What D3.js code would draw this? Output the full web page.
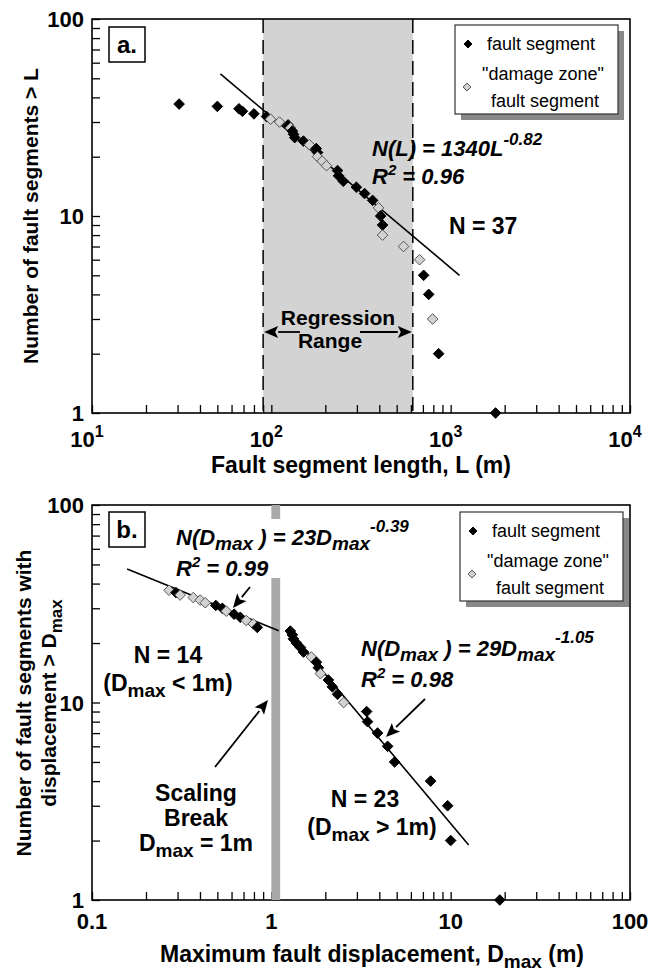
<!DOCTYPE html>
<html>
<head>
<meta charset="utf-8">
<script src="https://cdn.jsdelivr.net/npm/d3@7"></script>
<style>
  body { margin: 0; background: #fff; }
  svg { display: block; font-family: "Liberation Sans", Arial, Helvetica, sans-serif; }
  .bold { font-weight: bold; }
</style>
</head>
<body>
<svg id="chart" width="648" height="975"></svg>
<script>
// panel a: cumulative count of fault segment lengths
var lengthA = [30.6, 50, 66, 69, 80, 94, 99, 111, 124, 128, 131, 133, 135, 151, 163, 178, 181, 181, 192,
  203, 234, 237, 252, 298, 331, 367, 396, 407, 417, 417, 546, 671, 707, 754, 793, 857, 1780];
var countA = [37, 36, 35, 34, 33, 32, 31, 30, 29, 28, 27, 26, 25, 24, 23, 22, 21, 20, 19,
  18, 17, 16, 15, 14, 13, 12, 11, 10, 9, 8, 7, 6, 5, 4, 3, 2, 1];
var typeA = ['f', 'f', 'f', 'f', 'f', 'f', 'd', 'd', 'f', 'd', 'f', 'f', 'f', 'f', 'd', 'f', 'f', 'd', 'd',
  'd', 'f', 'f', 'f', 'f', 'f', 'f', 'd', 'f', 'f', 'd', 'd', 'd', 'f', 'f', 'd', 'f', 'f'];
var regressionRange = [90, 615];
var fitLineA = [[52, 52.6], [1120, 5.0]];

// panel b: cumulative count of maximum displacements
var dispB = [0.269, 0.294, 0.31, 0.367, 0.401, 0.428, 0.49, 0.533, 0.561, 0.62, 0.671, 0.725, 0.793, 0.835,
  1.276, 1.309, 1.327, 1.38, 1.453, 1.511, 1.672, 1.783, 1.83, 1.879, 2.08, 2.19, 2.34, 2.53,
  3.40, 3.44, 3.91, 4.45, 4.87, 7.73, 9.62, 10.0, 18.8];
var countB = [37, 36, 35, 34, 33, 32, 31, 30, 29, 28, 27, 26, 25, 24,
  23, 22, 21, 20, 19, 18, 17, 16, 15, 14, 13, 12, 11, 10, 9, 8, 7, 6, 5, 4, 3, 2, 1];
var typeB = ['d', 'f', 'd', 'd', 'd', 'd', 'f', 'f', 'd', 'f', 'f', 'd', 'd', 'f',
  'f', 'f', 'f', 'f', 'f', 'f', 'd', 'f', 'f', 'd', 'f', 'f', 'f', 'd', 'f', 'f', 'f', 'f', 'f', 'f', 'f', 'f', 'f'];
var scalingBreak = [1.0, 1.12];
var fitLineB1 = [[0.157, 47.4], [1.1, 23.1]];
var fitLineB2 = [[1.24, 23.3], [12.6, 1.9]];

var yTicks = [1, 10, 100];

var svg = d3.select('#chart');
var left = 92, right = 630;

var xA = d3.scaleLog().domain([10, 1e4]).range([left, right]);
var yA = d3.scaleLog().domain([1, 100]).range([413, 19]);
var xB = d3.scaleLog().domain([0.1, 100]).range([left, right]);
var yB = d3.scaleLog().domain([1, 100]).range([900, 505]);

var diamond = d3.symbol().type(d3.symbolDiamond2).size(72);
var diamondSmall = d3.symbol().type(d3.symbolDiamond2).size(40);

function styleMark(sel) {
  sel.attr('fill', function (d) { return d.type === 'f' ? '#000' : '#d2d2d2'; })
    .attr('stroke', function (d) { return d.type === 'f' ? '#000' : '#555'; })
    .attr('stroke-width', 1);
}

function rows(xs, ns, ts) {
  return xs.map(function (v, i) { return { x: v, n: ns[i], type: ts[i] }; });
}

function drawAxes(g, x, y) {
  // ticks pointing into the plot
  g.append('g')
    .attr('transform', 'translate(0,' + y.range()[0] + ')')
    .call(d3.axisBottom(x).tickValues(x.ticks()).tickSizeInner(-8).tickSizeOuter(0).tickFormat(''))
    .call(function (a) { a.select('.domain').remove(); a.selectAll('line').attr('stroke-width', 1.3); });
  g.append('g')
    .attr('transform', 'translate(' + x.range()[0] + ',0)')
    .call(d3.axisLeft(y).tickValues(y.ticks()).tickSizeInner(-8).tickSizeOuter(0).tickFormat(''))
    .call(function (a) { a.select('.domain').remove(); a.selectAll('line').attr('stroke-width', 1.3); });

  g.append('rect')
    .attr('x', x.range()[0]).attr('y', y.range()[1])
    .attr('width', x.range()[1] - x.range()[0])
    .attr('height', y.range()[0] - y.range()[1])
    .attr('fill', 'none').attr('stroke', '#000').attr('stroke-width', 1.6);

  g.selectAll('text.ylab').data(yTicks).enter().append('text')
    .attr('class', 'ylab bold')
    .attr('x', x.range()[0] - 8).attr('y', function (d) { return y(d) + 8; })
    .attr('text-anchor', 'end').attr('font-size', 22)
    .text(function (d) { return d; });
}

function panelLabel(g, x, y, txt) {
  g.append('rect').attr('x', x).attr('y', y).attr('width', 36).attr('height', 35)
    .attr('fill', '#fff').attr('stroke', '#000').attr('stroke-width', 1.5);
  g.append('text').attr('class', 'bold').attr('x', x + 18).attr('y', y + 26)
    .attr('text-anchor', 'middle').attr('font-size', 24).text(txt);
}

function legend(g, x, y) {
  var w = 163, h = 89;
  g.append('rect').attr('x', x + 6).attr('y', y + 6).attr('width', w).attr('height', h).attr('fill', '#888');
  g.append('rect').attr('x', x).attr('y', y).attr('width', w).attr('height', h)
    .attr('fill', '#fff').attr('stroke', '#333').attr('stroke-width', 1.2);
  g.append('path').attr('d', diamondSmall).datum({ type: 'f' })
    .attr('transform', 'translate(' + (x + 13) + ',' + (y + 19) + ')').call(styleMark);
  g.append('path').attr('d', diamondSmall).datum({ type: 'd' })
    .attr('transform', 'translate(' + (x + 12) + ',' + (y + 62) + ')').call(styleMark);
  var t = g.append('g').attr('font-size', 18);
  t.append('text').attr('x', x + 32).attr('y', y + 25).text('fault segment');
  t.append('text').attr('x', x + 88).attr('y', y + 55).attr('text-anchor', 'middle').text('"damage zone"');
  t.append('text').attr('x', x + 90).attr('y', y + 82).attr('text-anchor', 'middle').text('fault segment');
}

function arrow(g, x1, y1, x2, y2) {
  var ang = Math.atan2(y2 - y1, x2 - x1), L = 14, W = 6;
  var bx = x2 - L * Math.cos(ang), by = y2 - L * Math.sin(ang);
  g.append('line').attr('x1', x1).attr('y1', y1).attr('x2', bx).attr('y2', by)
    .attr('stroke', '#000').attr('stroke-width', 1.8);
  g.append('path')
    .attr('d', 'M' + x2 + ',' + y2 +
      'L' + (bx - W * Math.sin(ang)) + ',' + (by + W * Math.cos(ang)) +
      'L' + (bx + 3 * Math.cos(ang)) + ',' + (by + 3 * Math.sin(ang)) +
      'L' + (bx + W * Math.sin(ang)) + ',' + (by - W * Math.cos(ang)) + 'Z')
    .attr('fill', '#000');
}

var line = function (x, y) {
  return d3.line().x(function (d) { return x(d[0]); }).y(function (d) { return y(d[1]); });
};

function boldText(g, x, y, size, txt) {
  return g.append('text').attr('class', 'bold').attr('font-size', size)
    .attr('x', x).attr('y', y).attr('text-anchor', 'middle').text(txt);
}

// ---------- panel a ----------
var ga = svg.append('g');
ga.append('rect')
  .attr('x', xA(regressionRange[0])).attr('y', yA(100))
  .attr('width', xA(regressionRange[1]) - xA(regressionRange[0]))
  .attr('height', yA(1) - yA(100))
  .attr('fill', '#d3d3d3');
regressionRange.forEach(function (v) {
  ga.append('line').attr('x1', xA(v)).attr('x2', xA(v)).attr('y1', yA(100)).attr('y2', yA(1))
    .attr('stroke', '#000').attr('stroke-width', 1.5).attr('stroke-dasharray', '14,7');
});
drawAxes(ga, xA, yA);

ga.selectAll('text.xlab').data([10, 100, 1000, 10000]).enter().append('text')
  .attr('class', 'xlab bold').attr('font-size', 22)
  .attr('x', function (d) { return xA(d) - 5; }).attr('y', 447)
  .attr('text-anchor', 'middle')
  .each(function (d) {
    var t = d3.select(this);
    t.append('tspan').text('10');
    t.append('tspan').attr('dy', -10).attr('font-size', 16).text(Math.round(Math.log10(d)));
  });

ga.append('path').datum(fitLineA).attr('d', line(xA, yA))
  .attr('fill', 'none').attr('stroke', '#000').attr('stroke-width', 1.6);

ga.selectAll('path.mark').data(rows(lengthA, countA, typeA)).enter().append('path')
  .attr('class', 'mark').attr('d', diamond)
  .attr('transform', function (d) { return 'translate(' + xA(d.x) + ',' + yA(d.n) + ')'; })
  .call(styleMark);

panelLabel(ga, 109, 27, 'a.');
legend(ga, 455, 25);

var eqA = ga.append('text').attr('class', 'bold').attr('font-style', 'italic').attr('font-size', 22)
  .attr('x', 372).attr('y', 156);
eqA.append('tspan').text('N(L) = 1340L');
eqA.append('tspan').attr('dy', -11).attr('font-size', 17).text('-0.82');
var r2A = ga.append('text').attr('class', 'bold').attr('font-style', 'italic').attr('font-size', 22)
  .attr('x', 372).attr('y', 184);
r2A.append('tspan').text('R');
r2A.append('tspan').attr('dy', -9).attr('font-size', 15).text('2');
r2A.append('tspan').attr('dy', 9).text(' = 0.96');

ga.append('text').attr('class', 'bold').attr('font-size', 23).attr('x', 449).attr('y', 234).text('N = 37');

boldText(ga, 338, 325, 21, 'Regression');
boldText(ga, 330, 348, 21, 'Range');
arrow(ga, 300, 332, xA(regressionRange[0]) + 1, 332);
arrow(ga, 360, 332, xA(regressionRange[1]) - 1, 332);

boldText(ga, 361, 473, 23, 'Fault segment length, L (m)');
ga.append('text').attr('class', 'bold').attr('font-size', 21)
  .attr('transform', 'translate(38,216) rotate(-90)').attr('text-anchor', 'middle')
  .text('Number of fault segments > L');

// ---------- panel b ----------
var gb = svg.append('g');
drawAxes(gb, xB, yB);

gb.selectAll('text.xlab').data([0.1, 1, 10, 100]).enter().append('text')
  .attr('class', 'xlab bold').attr('font-size', 22)
  .attr('x', function (d) { return xB(d); }).attr('y', 929)
  .attr('text-anchor', 'middle').text(function (d) { return d; });

// scaling break bar, interrupted behind the left equation
var barX = xB(scalingBreak[0]), barW = xB(scalingBreak[1]) - xB(scalingBreak[0]);
gb.append('rect').attr('x', barX).attr('y', yB(100)).attr('width', barW).attr('height', 14).attr('fill', '#a9a9a9');
gb.append('rect').attr('x', barX).attr('y', 578).attr('width', barW).attr('height', yB(1) - 578).attr('fill', '#a9a9a9');

gb.append('path').datum(fitLineB1).attr('d', line(xB, yB))
  .attr('fill', 'none').attr('stroke', '#000').attr('stroke-width', 1.6);
gb.append('path').datum(fitLineB2).attr('d', line(xB, yB))
  .attr('fill', 'none').attr('stroke', '#000').attr('stroke-width', 1.6);

gb.selectAll('path.mark').data(rows(dispB, countB, typeB)).enter().append('path')
  .attr('class', 'mark').attr('d', diamond)
  .attr('transform', function (d) { return 'translate(' + xB(d.x) + ',' + yB(d.n) + ')'; })
  .call(styleMark);

panelLabel(gb, 109, 512, 'b.');
legend(gb, 460, 512);

function dmaxEq(g, x, y, coef, expo, r2) {
  var t = g.append('text').attr('class', 'bold').attr('font-style', 'italic').attr('font-size', 22)
    .attr('x', x).attr('y', y);
  t.append('tspan').text('N(D');
  t.append('tspan').attr('dy', 5).attr('font-size', 19).text('max');
  t.append('tspan').attr('dy', -5).text(' ) = ' + coef + 'D');
  t.append('tspan').attr('dy', 5).attr('font-size', 19).text('max');
  t.append('tspan').attr('dy', -18).attr('font-size', 17).text(expo);
  var r = g.append('text').attr('class', 'bold').attr('font-style', 'italic').attr('font-size', 22)
    .attr('x', x).attr('y', y + 31);
  r.append('tspan').text('R');
  r.append('tspan').attr('dy', -9).attr('font-size', 15).text('2');
  r.append('tspan').attr('dy', 9).text(' = ' + r2);
}
dmaxEq(gb, 176, 545, 23, '-0.39', '0.99');
dmaxEq(gb, 361, 656, 29, '-1.05', '0.98');

arrow(gb, 250, 587, 233, 608);
arrow(gb, 425, 699, 386, 737);
arrow(gb, 215, 767, 268, 700);

function subLine(g, x, y, before, after) {
  var t = g.append('text').attr('class', 'bold').attr('font-size', 23).attr('x', x).attr('y', y)
    .attr('text-anchor', 'middle');
  t.append('tspan').text(before + 'D');
  t.append('tspan').attr('dy', 6).attr('font-size', 19).text('max');
  t.append('tspan').attr('dy', -6).text(after);
}

boldText(gb, 168, 663, 23, 'N = 14');
subLine(gb, 168, 691, '(', ' < 1m)');

boldText(gb, 196, 801, 23, 'Scaling');
boldText(gb, 196, 826, 23, 'Break');
subLine(gb, 196, 851, '', ' = 1m');

boldText(gb, 365, 807, 23, 'N = 23');
subLine(gb, 372, 835, '(', ' > 1m)');

var xtB = boldText(gb, 372, 962, 23, '');
xtB.append('tspan').text('Maximum fault displacement, D');
xtB.append('tspan').attr('dy', 6).attr('font-size', 19).text('max');
xtB.append('tspan').attr('dy', -6).text(' (m)');

gb.append('text').attr('class', 'bold').attr('font-size', 21)
  .attr('transform', 'translate(31,703) rotate(-90)').attr('text-anchor', 'middle')
  .text('Number of fault segments with');
var ytB = gb.append('text').attr('class', 'bold').attr('font-size', 21)
  .attr('transform', 'translate(56,703) rotate(-90)').attr('text-anchor', 'middle');
ytB.append('tspan').text('displacement > D');
ytB.append('tspan').attr('dy', 6).attr('font-size', 17).text('max');
</script>
</body>
</html>
